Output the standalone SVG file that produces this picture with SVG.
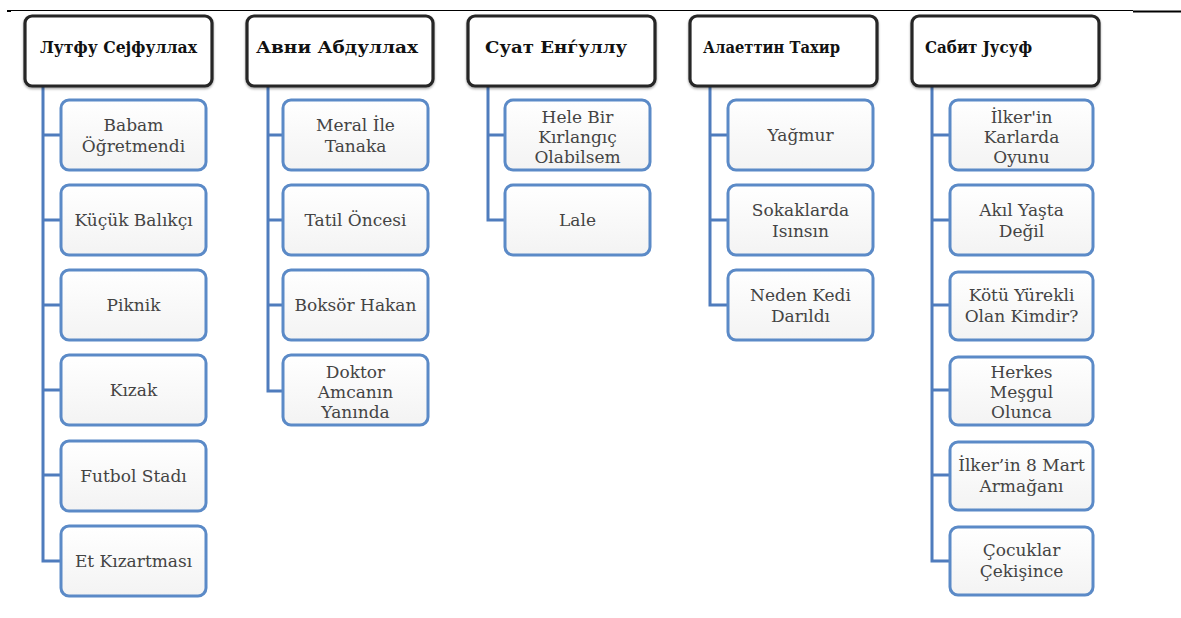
<svg xmlns="http://www.w3.org/2000/svg" width="1181" height="618" viewBox="0 0 1181 618">
<defs>
<linearGradient id="cg" x1="0" y1="0" x2="0" y2="1">
<stop offset="0" stop-color="#ffffff"/>
<stop offset="1" stop-color="#f3f3f3"/>
</linearGradient>
<filter id="sh" x="-10%" y="-10%" width="120%" height="130%">
<feDropShadow dx="0" dy="1.5" stdDeviation="1.2" flood-color="#000" flood-opacity="0.35"/>
</filter>
</defs>
<style>
.hd{fill:#fff;stroke:#262626;stroke-width:3.2}
.ht{font-family:'DejaVu Serif','Liberation Serif',serif;font-weight:bold;font-size:17px;fill:#111}
.ch{fill:url(#cg);stroke:#5b8ac7;stroke-width:3}
.ct{font-family:'DejaVu Serif','Liberation Serif',serif;font-size:17px;fill:#444;text-anchor:middle}
.cn{fill:none;stroke:#4f7cbd;stroke-width:3}
</style>
<g id="rule">
<line x1="7" y1="10.5" x2="1133" y2="10.5" stroke="#000" stroke-width="1.2"/>
<line x1="7" y1="11" x2="11" y2="11" stroke="#000" stroke-width="2"/>
<line x1="1133" y1="11.5" x2="1181" y2="11.5" stroke="#000" stroke-width="2.2"/>
</g>
<g id="connectors">
<path class="cn" d="M43 86V561H61M43 135H61M43 220H61M43 305H61M43 390H61M43 475H61"/>
<path class="cn" d="M268 86V391H283M268 135H283M268 220H283M268 305H283"/>
<path class="cn" d="M488 86V220H505M488 135H505"/>
<path class="cn" d="M710 86V305H728M710 135H728M710 220H728"/>
<path class="cn" d="M932 86V561H950M932 135H950M932 220H950M932 305H950M932 390H950M932 475H950"/>
</g>
<g id="h1"><rect class="hd" x="25" y="16" width="187" height="70" rx="7" filter="url(#sh)"/><text class="ht" x="40" y="53" textLength="157" lengthAdjust="spacingAndGlyphs">Лутфу Сејфуллах</text></g>
<g id="h2"><rect class="hd" x="247" y="16" width="186" height="70" rx="7" filter="url(#sh)"/><text class="ht" x="256" y="53" textLength="162" lengthAdjust="spacingAndGlyphs">Авни Абдуллах</text></g>
<g id="h3"><rect class="hd" x="468" y="16" width="187" height="70" rx="7" filter="url(#sh)"/><text class="ht" x="485" y="53" textLength="142" lengthAdjust="spacingAndGlyphs">Суат Енѓуллу</text></g>
<g id="h4"><rect class="hd" x="690" y="16" width="187" height="70" rx="7" filter="url(#sh)"/><text class="ht" x="703" y="53" textLength="137" lengthAdjust="spacingAndGlyphs">Алаеттин Тахир</text></g>
<g id="h5"><rect class="hd" x="912" y="16" width="187" height="70" rx="7" filter="url(#sh)"/><text class="ht" x="925" y="53" textLength="107" lengthAdjust="spacingAndGlyphs">Сабит Јусуф</text></g>

<g id="c1a"><rect class="ch" x="61" y="100" width="145" height="70" rx="8"/><text class="ct" x="133.5" y="131">Babam</text><text class="ct" x="133.5" y="152">Öğretmendi</text></g>
<g id="c1b"><rect class="ch" x="61" y="185" width="145" height="70" rx="8"/><text class="ct" x="133.5" y="226">Küçük Balıkçı</text></g>
<g id="c1c"><rect class="ch" x="61" y="270" width="145" height="70" rx="8"/><text class="ct" x="133.5" y="311">Piknik</text></g>
<g id="c1d"><rect class="ch" x="61" y="355" width="145" height="70" rx="8"/><text class="ct" x="133.5" y="396">Kızak</text></g>
<g id="c1e"><rect class="ch" x="61" y="441" width="145" height="70" rx="8"/><text class="ct" x="133.5" y="482">Futbol Stadı</text></g>
<g id="c1f"><rect class="ch" x="61" y="526" width="145" height="70" rx="8"/><text class="ct" x="133.5" y="567">Et Kızartması</text></g>

<g id="c2a"><rect class="ch" x="283" y="100" width="145" height="70" rx="8"/><text class="ct" x="355.5" y="131">Meral İle</text><text class="ct" x="355.5" y="152">Tanaka</text></g>
<g id="c2b"><rect class="ch" x="283" y="185" width="145" height="70" rx="8"/><text class="ct" x="355.5" y="226">Tatil Öncesi</text></g>
<g id="c2c"><rect class="ch" x="283" y="270" width="145" height="70" rx="8"/><text class="ct" x="355.5" y="311">Boksör Hakan</text></g>
<g id="c2d"><rect class="ch" x="283" y="355" width="145" height="70" rx="8"/><text class="ct" x="355.5" y="378">Doktor</text><text class="ct" x="355.5" y="398">Amcanın</text><text class="ct" x="355.5" y="418">Yanında</text></g>

<g id="c3a"><rect class="ch" x="505" y="100" width="145" height="70" rx="8"/><text class="ct" x="577.5" y="123">Hele Bir</text><text class="ct" x="577.5" y="143">Kırlangıç</text><text class="ct" x="577.5" y="163">Olabilsem</text></g>
<g id="c3b"><rect class="ch" x="505" y="185" width="145" height="70" rx="8"/><text class="ct" x="577.5" y="226">Lale</text></g>

<g id="c4a"><rect class="ch" x="728" y="100" width="145" height="70" rx="8"/><text class="ct" x="800.5" y="141">Yağmur</text></g>
<g id="c4b"><rect class="ch" x="728" y="185" width="145" height="70" rx="8"/><text class="ct" x="800.5" y="216">Sokaklarda</text><text class="ct" x="800.5" y="237">Isınsın</text></g>
<g id="c4c"><rect class="ch" x="728" y="270" width="145" height="70" rx="8"/><text class="ct" x="800.5" y="301">Neden Kedi</text><text class="ct" x="800.5" y="322">Darıldı</text></g>

<g id="c5a"><rect class="ch" x="950" y="100" width="143" height="70" rx="8"/><text class="ct" x="1021.5" y="123">İlker'in</text><text class="ct" x="1021.5" y="143">Karlarda</text><text class="ct" x="1021.5" y="163">Oyunu</text></g>
<g id="c5b"><rect class="ch" x="950" y="185" width="143" height="70" rx="8"/><text class="ct" x="1021.5" y="216">Akıl Yaşta</text><text class="ct" x="1021.5" y="237">Değil</text></g>
<g id="c5c"><rect class="ch" x="950" y="272" width="143" height="68" rx="8"/><text class="ct" x="1021.5" y="301">Kötü Yürekli</text><text class="ct" x="1021.5" y="322">Olan Kimdir?</text></g>
<g id="c5d"><rect class="ch" x="950" y="357" width="143" height="68" rx="8"/><text class="ct" x="1021.5" y="378">Herkes</text><text class="ct" x="1021.5" y="398">Meşgul</text><text class="ct" x="1021.5" y="418">Olunca</text></g>
<g id="c5e"><rect class="ch" x="950" y="442" width="143" height="68" rx="8"/><text class="ct" x="1021.5" y="471">İlker’in 8 Mart</text><text class="ct" x="1021.5" y="492">Armağanı</text></g>
<g id="c5f"><rect class="ch" x="950" y="527" width="143" height="68" rx="8"/><text class="ct" x="1021.5" y="556">Çocuklar</text><text class="ct" x="1021.5" y="577">Çekişince</text></g>
</svg>
